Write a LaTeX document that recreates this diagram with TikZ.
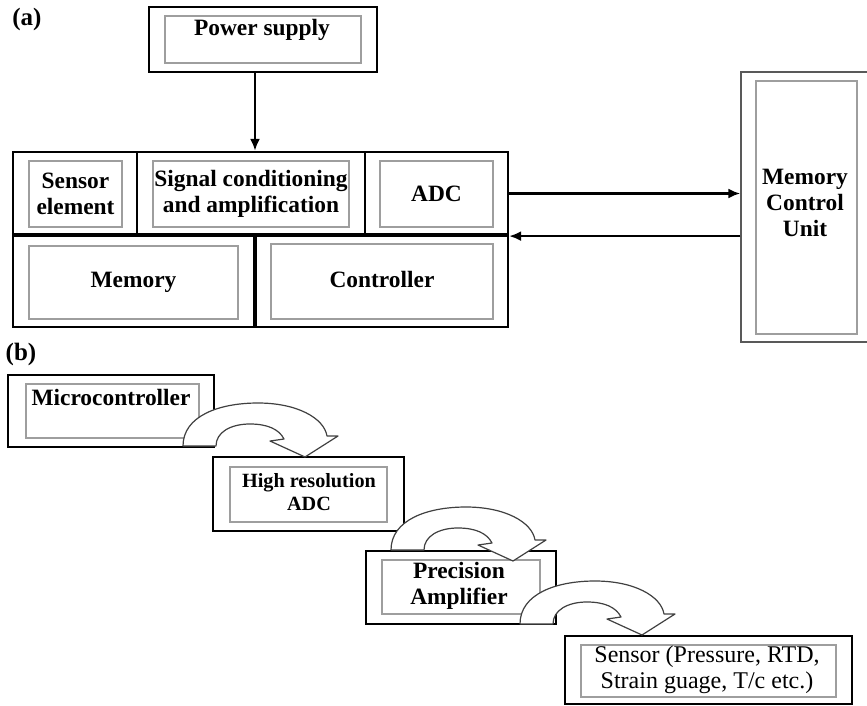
\documentclass[tikz,border=0pt]{standalone}
\usepackage{fontspec}
\setmainfont{Liberation Serif}
\usetikzlibrary{arrows.meta}
% \frameat{name}{x1}{y1}{x2}{y2}{style}: a box node spanning two corners
\newcommand\frameat[6]{%
  \node[#6, minimum width={(#4-#2)*0.5pt}, minimum height={(#5-#3)*0.5pt}]
    (#1) at ({(#2+#4)/2},{(#3+#5)/2}) {};}
\begin{document}
\begin{tikzpicture}[x=0.5pt,y=-0.5pt,
  blk/.style={draw=black,line width=1.1pt,inner sep=0pt},
  heavy/.style={draw=black,line width=1.35pt,inner sep=0pt},
  shell/.style={draw=black!65,line width=0.7pt,inner sep=0pt},
  pane/.style={draw=black!38,line width=0.55pt,inner sep=0pt},
  lbl/.style={font=\fontsize{11.7}{13}\selectfont\bfseries,align=center,inner sep=0pt},
  small/.style={font=\fontsize{10.1}{11.5}\selectfont\bfseries,align=center,inner sep=0pt},
  plain/.style={font=\fontsize{12}{13}\selectfont,align=center,inner sep=0pt},
  tag/.style={font=\fontsize{12.5}{14}\selectfont\bfseries,inner sep=0pt},
  wire/.style={line width=1.3pt,-{Latex[length=6pt,width=5pt]}},
  uturn/.pic={
    \draw[fill=white,draw=black!75,line width=0.6pt,line join=round]
      (0,0) .. controls (0,-30) and (36,-43) .. (75,-43)
      .. controls (114,-43) and (141,-28) .. (144,-10)
      -- (155,-10) -- (122,11) -- (87,-5) -- (101,-7)
      .. controls (96,-17) and (84,-22) .. (67,-22)
      .. controls (48,-22) and (33,-14) .. (33,0) -- cycle;
  }
]
\useasboundingbox (0,0) rectangle (867,706);

% ---------------- part (a) ----------------
\node[tag] (tagA) at (27,19) {(a)};

% power supply
\frameat{ps}{149}{7}{377}{72}{heavy}
\frameat{psin}{165}{16}{361}{63}{pane}
\node[lbl,anchor=base] (pstxt) at (262,36) {Power supply};

% sensing module: upper row
\frameat{sens}{13}{152}{137}{235}{blk}
\frameat{sig}{137}{152}{365}{235}{blk}
\frameat{adc}{365}{152}{508}{235}{blk}
\frameat{sensin}{29}{161}{122}{227}{pane}
\frameat{sigin}{153}{161}{349}{227}{pane}
\frameat{adcin}{380}{161}{493}{227}{pane}
\node[lbl] (senstxt) at (sensin) {Sensor\\element};
\node[lbl] (sigtxt) at (sigin) {Signal conditioning\\and amplification};
\node[lbl] (adctxt) at (adcin) {ADC};

% sensing module: lower row
\frameat{mem}{13}{236}{254}{327}{blk}
\frameat{ctl}{254}{236}{508}{327}{blk}
\draw[line width=1.7pt] (mem.north west) -- (ctl.north east);
\draw[line width=1.7pt] (mem.north east) -- (mem.south east);
\frameat{memin}{29}{246}{238}{319}{pane}
\frameat{ctlin}{271}{244}{493}{319}{pane}
\node[lbl] (memtxt) at (memin) {Memory};
\node[lbl] (ctltxt) at ([yshift=1pt]ctlin) {Controller};

% memory control unit
\frameat{mcu}{741}{72}{868}{342}{shell}
\frameat{mcuin}{756}{81}{857}{334}{pane}
\node[lbl] (mcutxt) at (805,203) {Memory\\Control\\Unit};

% connectors
\draw[wire] ([xshift=-4pt]ps.south) -- ([xshift=-4pt]ps.south |- sig.north);
\draw[wire] (adc.east) -- (adc.east -| mcu.west);
\draw[wire] (adc.south east -| mcu.west) -- (adc.south east);

% ---------------- part (b) ----------------
\node[tag] (tagB) at (21,354) {(b)};

\frameat{mc}{8}{375}{214}{447}{heavy}
\frameat{mcin}{26}{384}{199}{438}{pane}
\node[lbl,anchor=base] (mctxt) at (111,405) {Microcontroller};

\frameat{hr}{213}{457}{404}{531}{heavy}
\frameat{hrin}{230}{467}{387}{522}{pane}
\node[small] (hrtxt) at (309,492) {High resolution\\ADC};

\frameat{pa}{366}{551}{556}{624}{heavy}
\frameat{pain}{382}{560}{540}{614}{pane}
\node[lbl] (patxt) at (459,586) {Precision\\Amplifier};

\frameat{sn}{565}{636}{852}{704}{heavy}
\frameat{snin}{581}{645}{836}{697}{pane}
\node[plain] (sntxt) at (707,670) {Sensor (Pressure, RTD,\\Strain guage, T/c etc.)};

% curved hand-over arrows between the stages
\pic at (183,446) {uturn};
\pic at (391,550) {uturn};
\pic at (520,624) {uturn};
\end{tikzpicture}
\end{document}
